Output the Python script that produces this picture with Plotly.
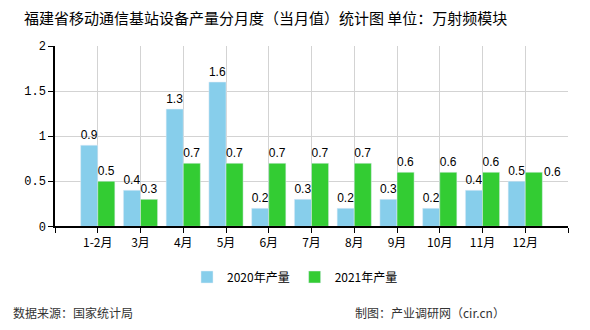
import plotly.graph_objects as go

categories = ["1-2月", "3月", "4月", "5月", "6月", "7月", "8月", "9月", "10月", "11月", "12月"]
values_2020 = [0.9, 0.4, 1.3, 1.6, 0.2, 0.3, 0.2, 0.3, 0.2, 0.4, 0.5]
values_2021 = [0.5, 0.3, 0.7, 0.7, 0.7, 0.7, 0.7, 0.6, 0.6, 0.6, 0.6]
series_names = ["2020年产量", "2021年产量"]
y_ticks = [0, 0.5, 1, 1.5, 2]
y_tick_text = ["0", "0.5", "1", "1.5", "2"]

xpos = list(range(len(categories)))
num_font = "Liberation Mono, DejaVu Sans Mono, monospace"
lbl_font = "Liberation Sans, Arial, sans-serif"
cjk_font = "Noto Sans CJK SC, sans-serif"

text_2021 = [str(v) for v in values_2021]
text_2021[-1] = ""  # last label drawn beside the bar

fig = go.Figure()
fig.add_trace(go.Bar(
    x=xpos, y=values_2020, name=series_names[0], marker_color="#87CEEB",
    text=[str(v) for v in values_2020], textposition="outside", constraintext="none",
    textfont=dict(family=lbl_font, size=12, color="#000"), cliponaxis=False,
))
fig.add_trace(go.Bar(
    x=xpos, y=values_2021, name=series_names[1], marker_color="#33CC33",
    text=text_2021, textposition="outside", constraintext="none",
    textfont=dict(family=lbl_font, size=12, color="#000"), cliponaxis=False,
))

fig.add_annotation(
    x=xpos[-1] + 0.4, y=values_2021[-1], xref="x", yref="y",
    text=str(values_2021[-1]), showarrow=False, xanchor="left", yanchor="middle",
    font=dict(family=lbl_font, size=12, color="#000"),
)

fig.update_layout(
    width=590, height=330,
    margin=dict(l=55, r=22, t=46, b=101),
    paper_bgcolor="white", plot_bgcolor="white",
    barmode="group", bargap=0.2, bargroupgap=0,
    title=dict(
        text="福建省移动通信基站设备产量分月度（当月值）统计图 单位：万射频模块",
        x=24 / 590, xanchor="left", xref="container",
        y=1 - 19 / 330, yanchor="middle", yref="container",
        font=dict(family=cjk_font, size=15, color="#000"),
    ),
    legend=dict(
        orientation="h", x=0.5, xanchor="center", xref="container",
        y=1 - 277 / 330, yanchor="middle", yref="container",
        font=dict(family=cjk_font, size=12, color="#000"),
        itemwidth=30, traceorder="normal",
    ),
    showlegend=True,
)

fig.update_xaxes(
    range=[-1, len(categories)],
    tickmode="array",
    tickvals=list(range(-1, len(categories) + 1)),
    ticktext=[""] + categories + [""],
    showgrid=True, gridcolor="#d3d3d3", gridwidth=1,
    showline=True, linecolor="#000", linewidth=1.5,
    ticks="outside", ticklen=5, tickcolor="#000",
    tickfont=dict(family=cjk_font, size=12, color="#000"),
    zeroline=False,
)
fig.update_yaxes(
    range=[0, 2],
    tickmode="array", tickvals=y_ticks, ticktext=y_tick_text,
    showgrid=True, gridcolor="#d3d3d3", gridwidth=1,
    showline=True, linecolor="#000", linewidth=1.5,
    ticks="outside", ticklen=5, tickcolor="#000",
    tickfont=dict(family=num_font, size=12, color="#000"),
    zeroline=False,
)

fig.add_annotation(
    x=(11 - 55) / 513, y=(229 - 316) / 183, xref="paper", yref="paper",
    text="数据来源：国家统计局", showarrow=False, xanchor="left", yanchor="middle",
    font=dict(family=cjk_font, size=12, color="#333"),
)
fig.add_annotation(
    x=(507 - 55) / 513, y=(229 - 316) / 183, xref="paper", yref="paper",
    text="制图：产业调研网（cir.cn）", showarrow=False, xanchor="right", yanchor="middle",
    font=dict(family=cjk_font, size=12, color="#333"),
)

fig.write_html("out.html")
